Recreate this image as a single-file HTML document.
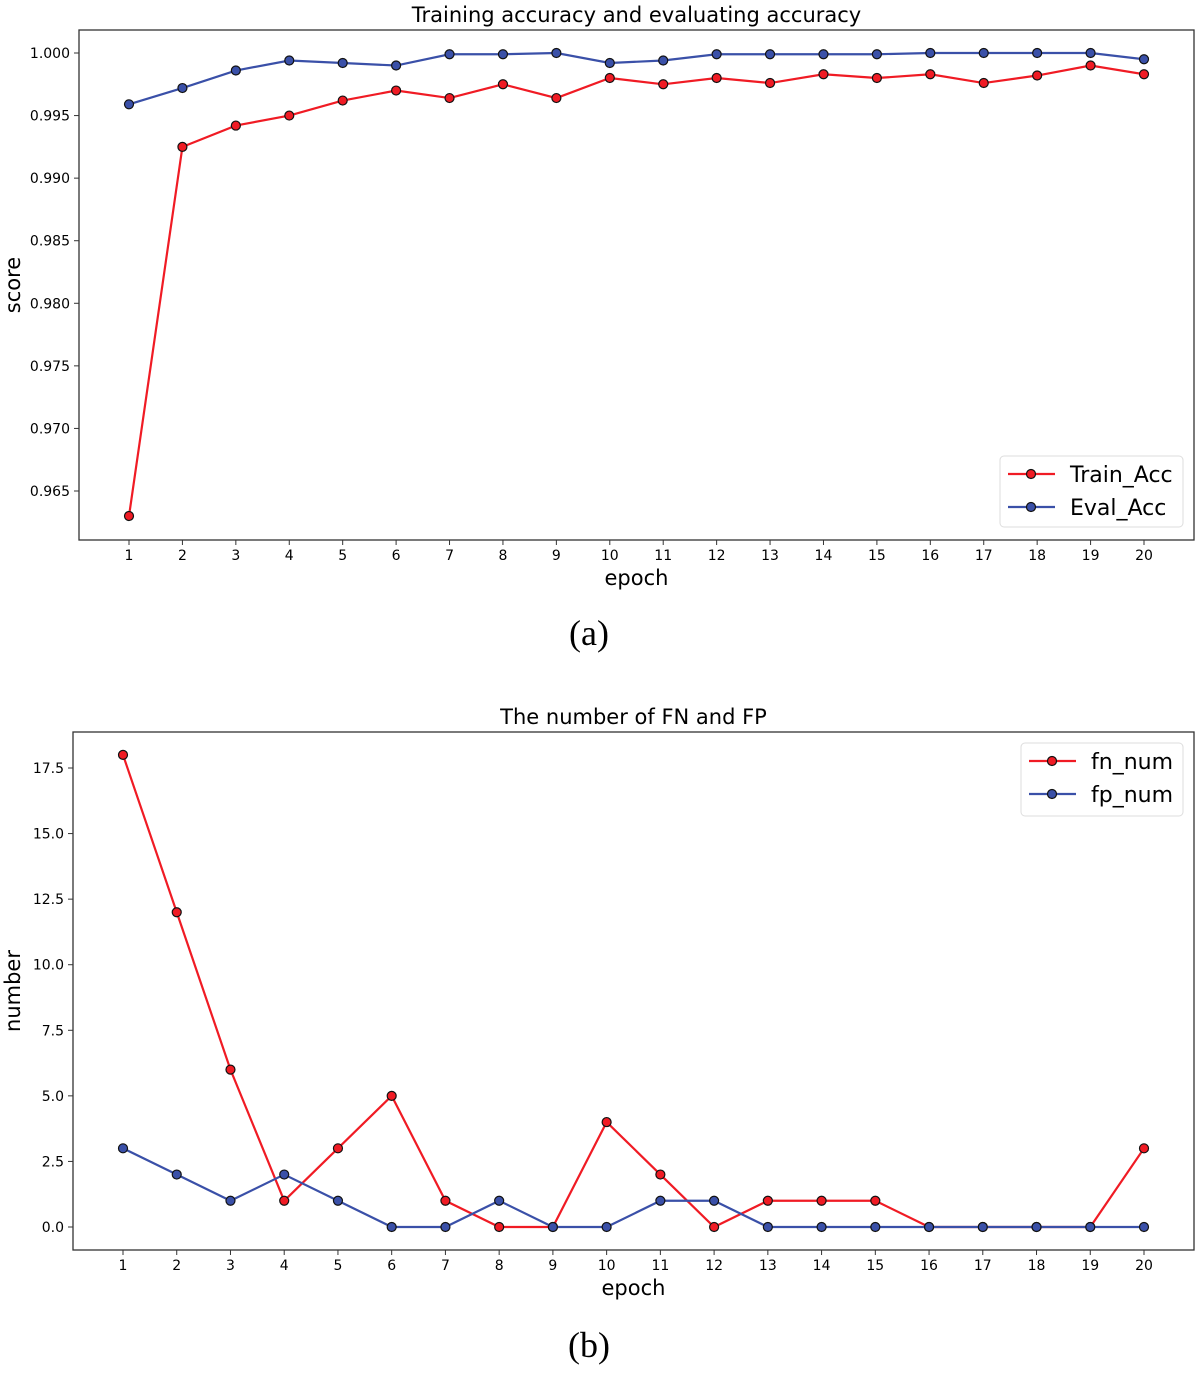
<!DOCTYPE html>
<html><head><meta charset="utf-8"><style>
body{margin:0;background:#fff;width:1200px;height:1370px;overflow:hidden}
text{font-family:"DejaVu Sans","Liberation Sans",sans-serif;fill:#000}
</style></head><body>
<svg id="svg" width="1200" height="1370" xmlns="http://www.w3.org/2000/svg">
<text x="589" y="645" font-family="Liberation Serif" style="font-family:'Liberation Serif',serif" font-size="36" text-anchor="middle">(a)</text>
<text x="589" y="1357" style="font-family:'Liberation Serif',serif" font-size="36" text-anchor="middle">(b)</text>
</svg>
<script>
const epochs=[1,2,3,4,5,6,7,8,9,10,11,12,13,14,15,16,17,18,19,20];
const trainAcc=[0.963,0.9925,0.9942,0.995,0.9962,0.997,0.9964,0.9975,0.9964,0.998,0.9975,0.998,0.9976,0.9983,0.998,0.9983,0.9976,0.9982,0.999,0.9983];
const evalAcc=[0.9959,0.9972,0.9986,0.9994,0.9992,0.999,0.9999,0.9999,1.0,0.9992,0.9994,0.9999,0.9999,0.9999,0.9999,1.0,1.0,1.0,1.0,0.9995];
const accTicks=[0.965,0.970,0.975,0.980,0.985,0.990,0.995,1.000];
const fnNum=[18,12,6,1,3,5,1,0,0,4,2,0,1,1,1,0,0,0,0,3];
const fpNum=[3,2,1,2,1,0,0,1,0,0,1,1,0,0,0,0,0,0,0,0];
const numTicks=[0,2.5,5,7.5,10,12.5,15,17.5];
const NS="http://www.w3.org/2000/svg";
const svg=document.getElementById('svg');
function mk(tag,attrs,parent){const e=document.createElementNS(NS,tag);for(const k in attrs)e.setAttribute(k,attrs[k]);(parent||svg).appendChild(e);return e;}
function chart(c){
  const g=mk('g',{});
  
  
  const xs=v=>c.x1+(v-1)*(c.x20-c.x1)/19;
  const ys=v=>c.yA+(v-c.vA)*(c.yB-c.yA)/(c.vB-c.vA);
  const frame=mk('rect',{x:c.L,y:c.T,width:c.R-c.L,height:c.B-c.T,fill:'none',stroke:'#333','stroke-width':1.3},g);
  
  
  epochs.forEach(e=>{
    mk('line',{x1:xs(e),x2:xs(e),y1:c.B,y2:c.B+5,stroke:'#333'},g);
    const t=mk('text',{x:xs(e),y:c.B+20,'font-size':14,'text-anchor':'middle'},g);t.textContent=e;
    
    
  });
  c.ticks.forEach(v=>{
    mk('line',{x1:c.L-5,x2:c.L,y1:ys(v),y2:ys(v),stroke:'#333'},g);
    const t=mk('text',{x:c.L-9,y:ys(v)+5,'font-size':14,'text-anchor':'end'},g);t.textContent=v.toFixed(c.dec);
    
    
  });
  const ti=mk('text',{x:(c.L+c.R)/2,y:c.T-8,'font-size':21,'text-anchor':'middle'},g);ti.textContent=c.title;
  
  
  const xl=mk('text',{x:(c.L+c.R)/2,y:c.B+45,'font-size':21,'text-anchor':'middle'},g);xl.textContent='epoch';
  
  
  const yl=mk('text',{x:0,y:0,'font-size':21,'text-anchor':'middle',transform:`translate(20,${c.ylY}) rotate(-90)`},g);yl.textContent=c.ylabel;
  
  
  c.series.forEach(s=>{
    const pl=mk('polyline',{points:s.d.map((v,i)=>xs(epochs[i])+','+ys(v)).join(' '),fill:'none',stroke:s.col,'stroke-width':2.2},g);
    
    
    s.d.forEach((v,i)=>{
      const p=mk('circle',{cx:xs(epochs[i]),cy:ys(v),r:4.5,fill:s.col,stroke:'#111','stroke-width':1.2},g);
      
      
    });
  });
  const lg=c.leg;
  const lb=mk('rect',{x:lg.x,y:lg.y,width:lg.w,height:lg.h,rx:4,fill:'#fff',stroke:'#ddd'},g);
  
  
  c.series.forEach((s,i)=>{
    const yy=lg.y+18+i*33;
    mk('line',{x1:lg.x+8,x2:lg.x+55,y1:yy,y2:yy,stroke:s.col,'stroke-width':2.2},g);
    mk('circle',{cx:lg.x+31,cy:yy,r:4.5,fill:s.col,stroke:'#111','stroke-width':1.2},g);
    const t=mk('text',{x:lg.x+70,y:yy+8,'font-size':22},g);t.textContent=s.label;
    
    
  });
}
chart({name:'accuracy-chart',L:79,R:1194,T:30,B:540,x1:129,x20:1144,vA:1.0,yA:53,vB:0.965,yB:491,ticks:accTicks,dec:3,
  title:'Training accuracy and evaluating accuracy',ylabel:'score',ylY:285,
  series:[{d:trainAcc,col:'#f01b24',label:'Train_Acc'},{d:evalAcc,col:'#3a50a8',label:'Eval_Acc'}],
  leg:{x:1000,y:456,w:183,h:71}});
chart({name:'fn-fp-chart',L:73,R:1194,T:732,B:1250,x1:123,x20:1144,vA:0,yA:1227,vB:17.5,yB:768,ticks:numTicks,dec:1,
  title:'The number of FN and FP',ylabel:'number',ylY:991,
  series:[{d:fnNum,col:'#f01b24',label:'fn_num'},{d:fpNum,col:'#3a50a8',label:'fp_num'}],
  leg:{x:1021,y:743,w:162,h:73}});
</script>
</body></html>
